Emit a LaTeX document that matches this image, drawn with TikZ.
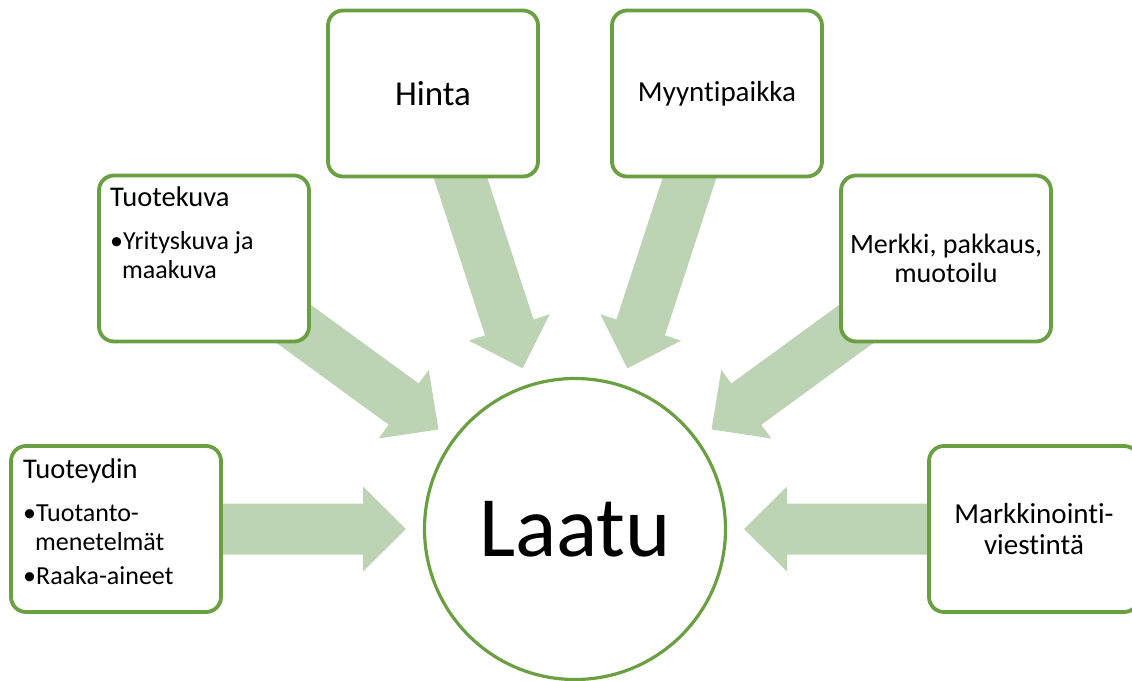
\documentclass[tikz,border=0pt]{standalone}
\usepackage{fontspec}
\setmainfont{Carlito}[RawFeature={-liga;-clig;-dlig}]
\usetikzlibrary{calc,backgrounds}
\definecolor{boxgreen}{RGB}{106,160,66}
\definecolor{arrowgreen}{RGB}{188,212,180}
\newcommand{\blkarrow}[2]{%
  \path ($(#2)!169pt!(#1)$) coordinate (tip) ($(#2)!212pt!(#1)$) coordinate (hb);
  \fill[arrowgreen] (tip) -- ($(hb)!42.5pt!90:(tip)$) -- ($(hb)!25.5pt!90:(tip)$)
    -- ($(#1)!25.5pt!90:(#2)$) -- ($(#1)!25.5pt!-90:(#2)$)
    -- ($(hb)!25.5pt!-90:(tip)$) -- ($(hb)!42.5pt!-90:(tip)$) -- cycle;}
\begin{document}
\begin{tikzpicture}[x=1pt,y=-1pt,
  box/.style={draw=boxgreen, line width=3.8pt, fill=white, rounded corners=15pt,
    minimum width=210pt, minimum height=166pt, inner sep=0pt, outer sep=0pt, align=center},
  hub/.style={circle, draw=boxgreen, line width=3.2pt, fill=white, minimum size=301pt, inner sep=0pt},
  ttl/.style={anchor=base west, inner sep=0pt, font=\fontsize{28.5}{30}\selectfont},
  itm/.style={anchor=base west, inner sep=0pt, font=\fontsize{26}{28}\selectfont}]
\useasboundingbox (0,0) rectangle (1132,680);
\node[hub, font=\fontsize{86}{90}\selectfont] (laatu) at (575,529) {Laatu};
\node[box] (tydin) at (116,529) {};
\node[box] (tkuva) at (204,258.5) {};
\node[box, font=\fontsize{35}{40}\selectfont] (hinta) at (433,93.5) {Hinta};
\node[box, font=\fontsize{29}{32}\selectfont] (myynti) at (717,93.5) {Myyntipaikka};
\node[box, font=\fontsize{28}{29}\selectfont] (merkki) at (946,258.5) {Merkki, pakkaus,\\muotoilu};
\node[box, font=\fontsize{29}{31}\selectfont] (markk) at (1034,529) {Markkinointi-\\viestintä};
% Tuoteydin texts
\node[ttl] (tydin-t) at ($(tydin.north west)+(12,32)$) {Tuoteydin};
\node[itm] (tydin-a) at ($(tydin.north west)+(12,75)$) {•Tuotanto-};
\node[itm] (tydin-b) at ($(tydin.north west)+(24,104)$) {menetelmät};
\node[itm] (tydin-c) at ($(tydin.north west)+(12,138)$) {•Raaka-aineet};
% Tuotekuva texts
\node[ttl] (tkuva-t) at ($(tkuva.north west)+(11,31)$) {Tuotekuva};
\node[itm] (tkuva-a) at ($(tkuva.north west)+(11,74)$) {•Yrityskuva ja};
\node[itm] (tkuva-b) at ($(tkuva.north west)+(23,103)$) {maakuva};
\begin{pgfonlayer}{background}
  \blkarrow{tydin}{laatu}
  \blkarrow{tkuva}{laatu}
  \blkarrow{hinta}{laatu}
  \blkarrow{myynti}{laatu}
  \blkarrow{merkki}{laatu}
  \blkarrow{markk}{laatu}
\end{pgfonlayer}
\end{tikzpicture}
\end{document}
